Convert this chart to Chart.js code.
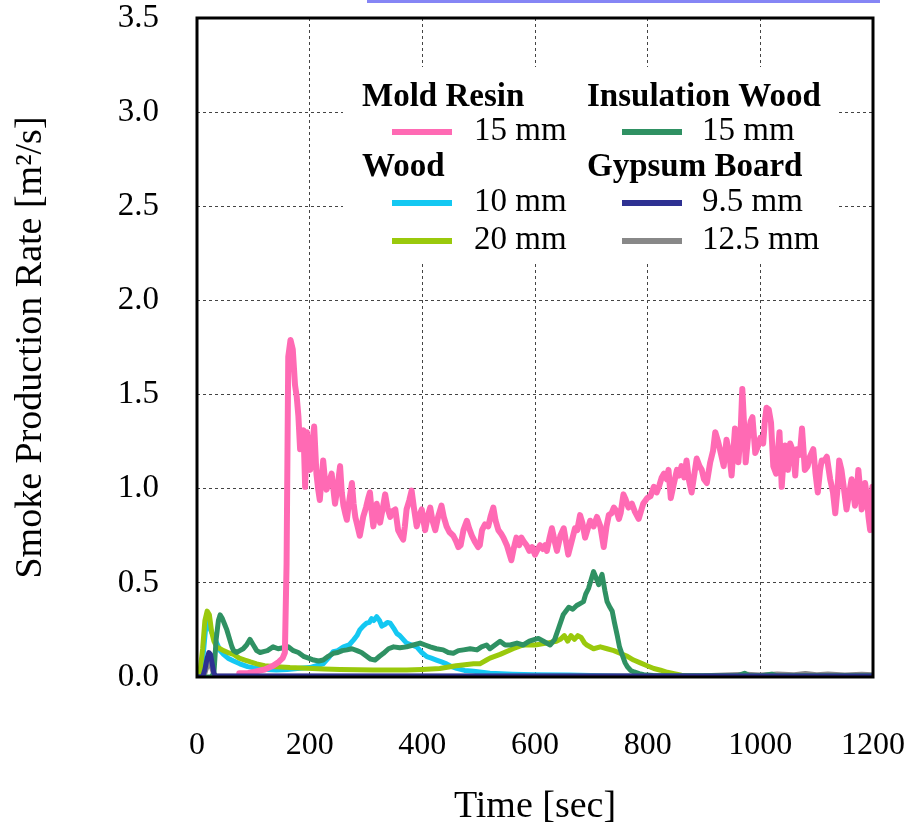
<!DOCTYPE html>
<html>
<head>
<meta charset="utf-8">
<title>Smoke Production Rate</title>
<script src="https://cdn.jsdelivr.net/npm/chart.js@4.4.1/dist/chart.umd.min.js"></script>
<style>
  body { margin: 0; background: #fff; }
  #wrap { position: relative; width: 908px; height: 830px; }
  #topLine { position: absolute; left: 367px; top: 0; width: 513px; height: 3px; background: #8585f5; }
</style>
</head>
<body>
<div id="wrap">
  <canvas id="myChart" width="908" height="830"></canvas>
  <div id="topLine"></div>
</div>
<script>
'use strict';

let xTicks = [0, 200, 400, 600, 800, 1000, 1200];
let yTicks = [0, 0.5, 1.0, 1.5, 2.0, 2.5, 3.0, 3.5];

// Mold Resin 15 mm
let moldTime = [75, 90, 105, 120, 135, 145, 152, 156, 159, 162, 166, 170, 174, 177, 180, 183, 186, 189, 192, 195, 198, 201, 205, 208, 212, 215, 218, 221, 224, 227, 230, 235, 239, 242, 245, 250, 254, 257, 260, 263, 266, 270, 275, 278, 281, 285, 289, 292, 295, 300, 304, 307, 310, 313, 316, 319, 322, 325, 330, 334, 338, 343, 347, 352, 357, 362, 366, 369, 372, 377, 381, 385, 390, 395, 399, 402, 405, 410, 414, 418, 423, 428, 434, 438, 443, 448, 455, 460, 464, 468, 473, 479, 483, 488, 493, 499, 502, 506, 511, 517, 521, 526, 530, 535, 540, 544, 550, 554, 558, 562, 567, 572, 576, 580, 585, 590, 595, 600, 605, 609, 614, 618, 621, 626, 630, 635, 639, 645, 651, 655, 659, 665, 671, 675, 680, 684, 689, 694, 698, 704, 710, 716, 722, 727, 731, 736, 740, 745, 749, 752, 757, 760, 766, 772, 777, 784, 788, 792, 799, 805, 811, 816, 821, 825, 829, 834, 837, 841, 846, 852, 856, 860, 865, 869, 873, 878, 883, 887, 892, 896, 900, 905, 911, 916, 920, 925, 929, 935, 940, 945, 949, 955, 958, 961, 965, 968, 971, 974, 979, 983, 986, 991, 995, 1000, 1005, 1008, 1011, 1015, 1019, 1023, 1028, 1031, 1034, 1038, 1041, 1044, 1049, 1053, 1058, 1062, 1065, 1070, 1074, 1079, 1084, 1088, 1094, 1098, 1102, 1106, 1109, 1114, 1118, 1124, 1129, 1133, 1137, 1140, 1144, 1148, 1153, 1158, 1162, 1168, 1171, 1174, 1177, 1180, 1183, 1186, 1189, 1192, 1195, 1197, 1199, 1200];
let moldRate = [0.02, 0.02, 0.03, 0.04, 0.06, 0.08, 0.10, 0.13, 0.60, 1.70, 1.79, 1.74, 1.55, 1.49, 1.385, 1.21, 1.28, 1.31, 1.01, 1.30, 1.20, 1.10, 1.25, 1.33, 1.08, 1.00, 0.94, 1.05, 1.15, 1.05, 0.995, 1.04, 1.08, 1.00, 0.92, 1.02, 1.12, 0.98, 0.91, 0.87, 0.835, 0.93, 1.03, 0.92, 0.85, 0.80, 0.75, 0.80, 0.85, 0.90, 0.95, 0.98, 0.88, 0.80, 0.86, 0.92, 0.87, 0.82, 0.90, 0.97, 0.90, 0.85, 0.88, 0.89, 0.78, 0.75, 0.73, 0.80, 0.89, 0.94, 0.99, 0.90, 0.80, 0.86, 0.89, 0.83, 0.78, 0.86, 0.90, 0.83, 0.78, 0.85, 0.91, 0.85, 0.80, 0.77, 0.75, 0.72, 0.69, 0.70, 0.78, 0.83, 0.79, 0.75, 0.72, 0.69, 0.70, 0.78, 0.81, 0.80, 0.85, 0.90, 0.83, 0.78, 0.76, 0.74, 0.70, 0.66, 0.62, 0.68, 0.74, 0.70, 0.74, 0.72, 0.70, 0.67, 0.69, 0.65, 0.68, 0.70, 0.68, 0.70, 0.67, 0.74, 0.79, 0.72, 0.67, 0.75, 0.79, 0.72, 0.65, 0.72, 0.79, 0.78, 0.86, 0.82, 0.74, 0.79, 0.83, 0.80, 0.85, 0.80, 0.69, 0.80, 0.86, 0.87, 0.90, 0.88, 0.84, 0.87, 0.97, 0.95, 0.90, 0.92, 0.88, 0.84, 0.88, 0.92, 0.95, 0.96, 1.01, 0.98, 1.02, 1.06, 1.08, 1.05, 1.10, 0.95, 1.02, 1.10, 1.07, 1.12, 1.06, 1.15, 1.05, 0.98, 1.08, 1.16, 1.12, 1.10, 1.05, 1.03, 1.14, 1.20, 1.30, 1.25, 1.20, 1.12, 1.26, 1.18, 1.07, 1.32, 1.25, 1.14, 1.30, 1.53, 1.35, 1.14, 1.30, 1.36, 1.38, 1.19, 1.22, 1.27, 1.24, 1.36, 1.43, 1.42, 1.35, 1.12, 1.08, 1.19, 1.30, 1.01, 1.15, 1.23, 1.10, 1.24, 1.20, 1.07, 1.21, 1.18, 1.32, 1.10, 1.12, 1.17, 1.21, 1.08, 0.98, 1.10, 1.15, 1.15, 1.17, 1.05, 0.98, 0.87, 1.00, 1.15, 1.10, 1.01, 0.89, 0.98, 1.05, 0.91, 0.98, 1.10, 1.00, 0.89, 0.95, 1.03, 0.96, 0.85, 0.78, 0.95, 1.01, 0.80];

// Wood 10 mm
let wood10Time = [0, 8, 12, 16, 20, 24, 29, 35, 41, 47, 55, 65, 76, 90, 106, 125, 141, 160, 183, 200, 212, 224, 233, 242, 250, 260, 270, 278, 284, 289, 295, 301, 306, 310, 314, 319, 324, 328, 334, 338, 343, 349, 355, 360, 366, 372, 381, 390, 399, 408, 416, 425, 434, 443, 452, 461, 475, 491, 520, 560, 600, 660, 700, 760, 1200];
let wood10Rate = [0, 0.03, 0.15, 0.28, 0.31, 0.25, 0.22, 0.18, 0.14, 0.12, 0.10, 0.085, 0.07, 0.055, 0.046, 0.04, 0.037, 0.04, 0.046, 0.05, 0.06, 0.07, 0.10, 0.135, 0.14, 0.16, 0.17, 0.197, 0.22, 0.25, 0.27, 0.286, 0.29, 0.31, 0.30, 0.32, 0.30, 0.27, 0.28, 0.29, 0.286, 0.26, 0.23, 0.22, 0.20, 0.18, 0.17, 0.16, 0.13, 0.108, 0.10, 0.09, 0.08, 0.07, 0.055, 0.046, 0.035, 0.03, 0.02, 0.015, 0.012, 0.01, 0.008, 0.004, 0.003];

// Wood 20 mm
let wood20Time = [0, 5, 10, 14, 18, 22, 26, 30, 35, 41, 47, 55, 65, 75, 85, 95, 106, 120, 141, 165, 195, 225, 254, 285, 313, 345, 372, 400, 431, 460, 491, 502, 514, 520, 538, 561, 579, 600, 621, 638, 645, 652, 658, 664, 670, 676, 682, 688, 692, 704, 716, 728, 740, 752, 764, 775, 787, 799, 811, 823, 835, 847, 860, 870, 900, 1200];
let wood20Rate = [0, 0.02, 0.15, 0.30, 0.35, 0.33, 0.24, 0.19, 0.16, 0.15, 0.14, 0.13, 0.12, 0.10, 0.09, 0.08, 0.07, 0.06, 0.055, 0.05, 0.046, 0.043, 0.04, 0.038, 0.037, 0.037, 0.037, 0.04, 0.045, 0.06, 0.07, 0.07, 0.09, 0.10, 0.12, 0.15, 0.17, 0.17, 0.18, 0.19, 0.20, 0.22, 0.19, 0.22, 0.20, 0.22, 0.21, 0.18, 0.17, 0.15, 0.16, 0.15, 0.14, 0.125, 0.11, 0.09, 0.075, 0.06, 0.045, 0.036, 0.025, 0.018, 0.01, 0.005, 0.003, 0.003];

// Insulation Wood 15 mm
let insulTime = [0, 25, 30, 34, 38, 41, 45, 49, 53, 58, 62, 65, 70, 76, 82, 88, 94, 100, 106, 112, 118, 125, 135, 144, 153, 162, 171, 180, 189, 198, 207, 216, 224, 233, 242, 250, 258, 266, 275, 284, 292, 301, 308, 316, 324, 331, 340, 349, 360, 372, 384, 396, 405, 414, 425, 437, 446, 455, 464, 473, 485, 497, 505, 514, 520, 529, 538, 547, 556, 568, 579, 590, 600, 606, 615, 627, 635, 642, 650, 660, 667, 674, 680, 686, 690, 695, 700, 704, 708, 713, 716, 719, 724, 728, 733, 737, 741, 746, 750, 755, 760, 764, 770, 776, 785, 793, 810, 850, 900, 960, 972, 980, 1000, 1020, 1030, 1200];
let insulRate = [0, 0, 0.02, 0.20, 0.30, 0.33, 0.31, 0.28, 0.25, 0.20, 0.16, 0.14, 0.13, 0.14, 0.15, 0.17, 0.20, 0.17, 0.14, 0.13, 0.135, 0.14, 0.16, 0.15, 0.155, 0.16, 0.14, 0.13, 0.11, 0.10, 0.09, 0.085, 0.09, 0.11, 0.126, 0.13, 0.14, 0.144, 0.15, 0.14, 0.13, 0.11, 0.095, 0.09, 0.11, 0.126, 0.15, 0.16, 0.155, 0.16, 0.17, 0.18, 0.17, 0.16, 0.15, 0.144, 0.13, 0.126, 0.14, 0.144, 0.15, 0.144, 0.16, 0.17, 0.15, 0.17, 0.19, 0.17, 0.17, 0.18, 0.17, 0.19, 0.20, 0.205, 0.19, 0.17, 0.20, 0.26, 0.33, 0.37, 0.36, 0.38, 0.39, 0.40, 0.44, 0.47, 0.52, 0.56, 0.53, 0.49, 0.52, 0.545, 0.46, 0.40, 0.37, 0.35, 0.29, 0.22, 0.16, 0.116, 0.075, 0.054, 0.035, 0.027, 0.018, 0.012, 0.008, 0.006, 0.006, 0.006, 0.02, 0.008, 0.006, 0.015, 0.006, 0.006];

// Gypsum Board 9.5 mm
let gyp95Time = [0, 10, 14, 18, 21, 24, 27, 30, 33, 100, 400, 800, 1200];
let gyp95Rate = [0, 0, 0.04, 0.10, 0.13, 0.12, 0.07, 0.02, 0.005, 0.005, 0.005, 0.005, 0.005];

// Gypsum Board 12.5 mm
let gyp125Time = [0, 12, 16, 20, 23, 26, 30, 35, 300, 600, 900, 950, 975, 1000, 1030, 1060, 1080, 1100, 1120, 1150, 1180, 1200];
let gyp125Rate = [0, 0, 0.04, 0.07, 0.08, 0.05, 0.01, 0.004, 0.004, 0.004, 0.006, 0.012, 0.015, 0.01, 0.016, 0.012, 0.018, 0.012, 0.016, 0.01, 0.014, 0.012];

function toPoints(times, rates) {
  let pts = [];
  for (let i = 0; i < times.length; i++) {
    pts.push({ x: times[i], y: rates[i] });
  }
  return pts;
}

const serif = 'Liberation Serif, Times New Roman, serif';

let datasets = [
  { label: '15 mm', data: toPoints(moldTime, moldRate), borderColor: '#ff6ab4', borderWidth: 6, order: 1 },
  { label: '10 mm', data: toPoints(wood10Time, wood10Rate), borderColor: '#14c8f2', borderWidth: 5, order: 5 },
  { label: '20 mm', data: toPoints(wood20Time, wood20Rate), borderColor: '#9ac90c', borderWidth: 5, order: 4 },
  { label: '15 mm', data: toPoints(insulTime, insulRate), borderColor: '#2f9163', borderWidth: 5, order: 2 },
  { label: '9.5 mm', data: toPoints(gyp95Time, gyp95Rate), borderColor: '#2e3192', borderWidth: 5, order: 0 },
  { label: '12.5 mm', data: toPoints(gyp125Time, gyp125Rate), borderColor: '#888888', borderWidth: 5, order: 3 },
];

// legend columns: header text or dataset index
let legendCols = [
  [{ head: 'Mold Resin' }, { ds: 0 }, { head: 'Wood' }, { ds: 1 }, { ds: 2 }],
  [{ head: 'Insulation Wood' }, { ds: 3 }, { head: 'Gypsum Board' }, { ds: 4 }, { ds: 5 }],
];

const groupLegend = {
  id: 'groupLegend',
  afterDraw(chart) {
    const ctx = chart.ctx;
    const rows = [97, 131, 167, 202, 240];
    const cols = [{ head: 362, line: 392, text: 474 }, { head: 587, line: 622, text: 702 }];
    ctx.save();
    ctx.fillStyle = '#fff';
    ctx.fillRect(343, 67, 496, 196);
    ctx.textBaseline = 'middle';
    ctx.textAlign = 'left';
    legendCols.forEach((col, c) => {
      col.forEach((item, r) => {
        const y = rows[r];
        if (item.head) {
          ctx.fillStyle = '#000';
          ctx.font = 'bold 33px ' + serif;
          ctx.fillText(item.head, cols[c].head, y);
        } else {
          const ds = chart.data.datasets[item.ds];
          ctx.strokeStyle = ds.borderColor;
          ctx.lineWidth = 6;
          ctx.beginPath();
          ctx.moveTo(cols[c].line, y + 1);
          ctx.lineTo(cols[c].line + 60, y + 1);
          ctx.stroke();
          ctx.fillStyle = '#000';
          ctx.font = '33px ' + serif;
          ctx.fillText(ds.label, cols[c].text, y);
        }
      });
    });
    ctx.restore();
  }
};

const frame = {
  id: 'frame',
  afterDatasetsDraw(chart) {
    const a = chart.chartArea;
    const ctx = chart.ctx;
    ctx.save();
    ctx.strokeStyle = '#000';
    ctx.lineWidth = 3;
    ctx.strokeRect(a.left, a.top, a.right - a.left, a.bottom - a.top);
    ctx.restore();
  }
};

// keep the plot box fixed, no extra room for overhanging labels
function noPadding(axis) {
  axis.paddingTop = 0;
  axis.paddingBottom = 0;
  axis.paddingLeft = 0;
  axis.paddingRight = 0;
}

let ctx = document.getElementById('myChart').getContext('2d');
let myChart = new Chart(ctx, {
  type: 'line',
  data: { datasets: datasets },
  options: {
    responsive: false,
    animation: false,
    parsing: false,
    layout: { padding: { top: 18, right: 35, left: 0, bottom: 0 } },
    elements: {
      point: { radius: 0 },
      line: { tension: 0, borderJoinStyle: 'round', borderCapStyle: 'round', fill: false }
    },
    plugins: {
      legend: { display: false },
      tooltip: { enabled: false }
    },
    scales: {
      x: {
        type: 'linear',
        min: 0,
        max: 1200,
        afterBuildTicks: (axis) => { axis.ticks = xTicks.map(v => ({ value: v })); },
        afterFit: (axis) => { axis.height = 153; noPadding(axis); },
        grid: { color: '#444', lineWidth: 1, drawTicks: false },
        border: { display: false, dash: [3, 3] },
        ticks: {
          padding: 49,
          color: '#000',
          maxRotation: 0,
          autoSkip: false,
          font: { family: serif, size: 32 },
          callback: (value) => String(value)
        },
        title: {
          display: true,
          text: 'Time [sec]',
          color: '#000',
          font: { family: serif, size: 38 },
          padding: { top: 0, bottom: 0 }
        }
      },
      y: {
        type: 'linear',
        min: 0,
        max: 3.5,
        afterBuildTicks: (axis) => { axis.ticks = yTicks.map(v => ({ value: v })); },
        afterFit: (axis) => { axis.width = 197; noPadding(axis); },
        grid: { color: '#444', lineWidth: 1, drawTicks: false },
        border: { display: false, dash: [3, 3] },
        ticks: {
          padding: 38,
          color: '#000',
          font: { family: serif, size: 33 },
          callback: (value) => value.toFixed(1)
        },
        title: {
          display: true,
          text: 'Smoke Production Rate [m\u00b2/s]',
          color: '#000',
          font: { family: serif, size: 38 },
          padding: { top: 8, bottom: 0 }
        }
      }
    }
  },
  plugins: [frame, groupLegend]
});
</script>
</body>
</html>
